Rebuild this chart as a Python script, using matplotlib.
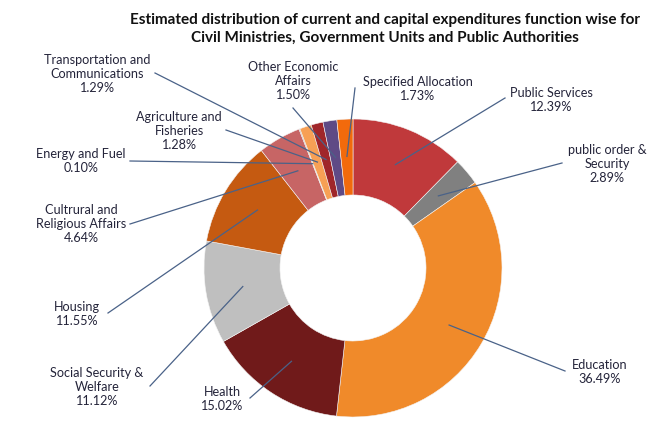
import matplotlib
matplotlib.use("Agg")
import matplotlib.pyplot as plt
import numpy as np

plt.rcParams['font.family'] = ['Lato', 'DejaVu Sans']

categories = ["Public Services", "public order &\nSecurity", "Education", "Health",
              "Social Security &\nWelfare", "Housing", "Cultrural and\nReligious Affairs",
              "Energy and Fuel", "Agriculture and\nFisheries", "Transportation and\nCommunications",
              "Other Economic\nAffairs", "Specified Allocation"]
values = [12.39, 2.89, 36.49, 15.02, 11.12, 11.55, 4.64, 0.10, 1.28, 1.29, 1.50, 1.73]
colors = ["#C0393B", "#808080", "#F08A2A", "#701A1A", "#BFBFBF", "#C55A11", "#C76565",
          "#9E8A8A", "#F7A055", "#A0262A", "#5F4A85", "#F26A0C"]

# label layout (pixel coordinates of text centre, leader start point)
label_pos = [(551, 100), (607, 164), (600, 372), (222, 399), (97, 387), (77, 314),
             (81, 224), (81, 161), (179, 131), (97, 74), (293, 81), (418, 89)]
leader_start = [(505, 98), (562, 163), (565, 371), (250, 398), (150, 386), (108, 313),
                (130, 224), (130, 161), (226, 130), (155, 73), (293, 108), (355, 88)]

W, H = 670, 434
fig = plt.figure(figsize=(W / 100, H / 100), dpi=100)
ax = fig.add_axes([0, 0, 1, 1])

cx, cy, R = 353, H - 268, 149
wedges, _ = ax.pie(values, colors=colors, startangle=90, counterclock=False,
                   center=(cx, cy), radius=R, frame=True,
                   wedgeprops=dict(width=R * 0.51, edgecolor='#f4f4f4', linewidth=0.4))
ax.set_xlim(0, W)
ax.set_ylim(0, H)
ax.set_aspect('equal')
ax.axis('off')

txtcol = "#24243a"
linecol = "#4a6288"
for w, cat, val, (lx, ly), (sx, sy) in zip(wedges, categories, values, label_pos, leader_start):
    mid = np.deg2rad((w.theta1 + w.theta2) / 2)
    r = R * 0.75
    axp = (cx + r * np.cos(mid), cy + r * np.sin(mid))
    ax.plot([sx, axp[0]], [H - sy, axp[1]], color=linecol, lw=0.9)
    ax.text(lx, H - ly, f"{cat}\n{val:.2f}%", ha='center', va='center', fontsize=9.1,
            color=txtcol, linespacing=1.2)

ax.text(385, H - 29, "Estimated distribution of current and capital expenditures function wise for\n"
        "Civil Ministries, Government Units and Public Authorities",
        ha='center', va='center', fontsize=11, fontweight='bold', color='#111111', linespacing=1.4)

fig.savefig("out.png", dpi=100)
